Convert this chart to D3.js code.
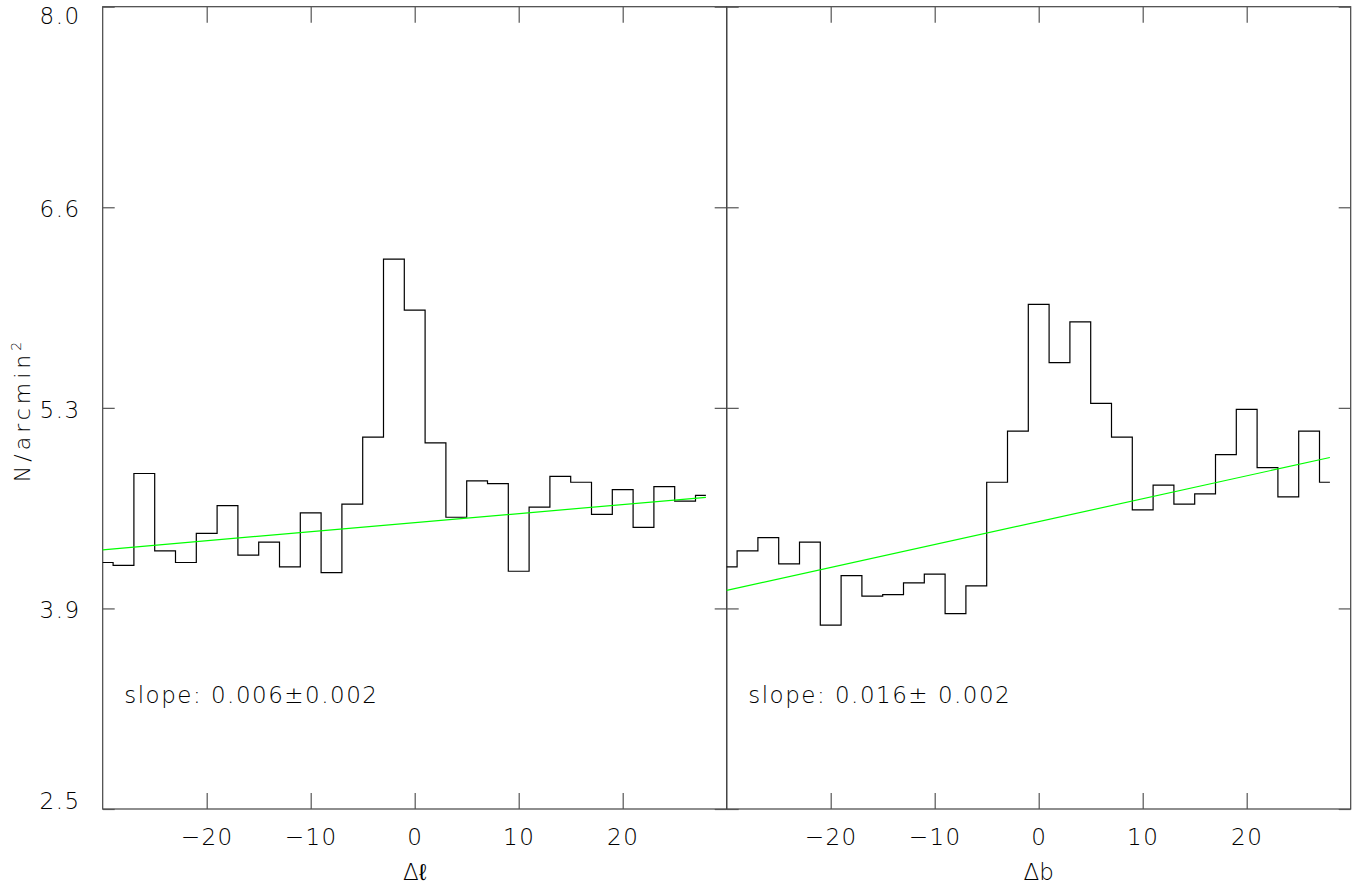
<!DOCTYPE html>
<html>
<head>
<meta charset="utf-8">
<script src="https://cdn.jsdelivr.net/npm/d3@7"></script>
<style>
body { margin: 0; background: #fff; }
text { font-family: "DejaVu Sans", sans-serif; font-weight: 200; fill: #000; }
</style>
</head>
<body>
<script>
// bin centres (arcmin) and star densities
var centres = [-30, -28, -26, -24, -22, -20, -18, -16, -14, -12, -10, -8, -6, -4, -2,
  0, 2, 4, 6, 8, 10, 12, 14, 16, 18, 20, 22, 24, 26, 28];
var densL = [4.19, 4.17, 4.80, 4.27, 4.19, 4.39, 4.58, 4.24, 4.33, 4.16, 4.53, 4.12, 4.59, 5.05, 6.27,
  5.92, 5.01, 4.50, 4.75, 4.73, 4.13, 4.57, 4.78, 4.74, 4.52, 4.69, 4.43, 4.71, 4.61, 4.65];
var densB = [4.16, 4.27, 4.36, 4.18, 4.33, 3.76, 4.10, 3.96, 3.97, 4.05, 4.11, 3.84, 4.03, 4.74, 5.09,
  5.96, 5.56, 5.84, 5.28, 5.05, 4.55, 4.72, 4.59, 4.66, 4.93, 5.24, 4.84, 4.64, 5.09, 4.74];
// linear fits: [intercept, slope]
var fitL = [4.463, 0.0062];
var fitB = [4.47, 0.0157];
var xTicks = [-20, -10, 0, 10, 20];
var yTicks = [2.5, 3.875, 5.25, 6.625, 8.0];
var yTickLabels = ['2.5', '3.9', '5.3', '6.6', '8.0'];

var margin = {top: 6.7, left: 102.7};
var pw = 624;
var ph = 802.3;

var y = d3.scaleLinear().domain([2.5, 8.0]).range([ph, 0]);

var svg = d3.select('body')
.append('svg')
.attr('width', 1354)
.attr('height', 886);

var main = svg.append('g')
.attr('transform', 'translate(' + margin.left + ',' + margin.top + ')');

var panels = [
  {dens: densL, fit: fitL, label: '\u0394\u2113', slope: 'slope: 0.006\u00b10.002', off: 0},
  {dens: densB, fit: fitB, label: '\u0394b', slope: 'slope: 0.016\u00b1 0.002', off: pw}
];

panels.forEach(function(p, i) {
  var x = d3.scaleLinear().domain([-30, 30]).range([0, pw]);
  var g = main.append('g').attr('transform', 'translate(' + p.off + ',0)');

  g.append('rect')
  .attr('width', pw)
  .attr('height', ph)
  .attr('fill', 'none')
  .attr('stroke', '#444')
  .attr('stroke-width', 1.2);

  var bottom = g.append('g')
  .attr('transform', 'translate(0,' + ph + ')')
  .call(d3.axisBottom(x).tickValues(xTicks).tickSizeInner(-16).tickSizeOuter(0).tickPadding(20)
    .tickFormat(function(d) { return d < 0 ? '\u2212' + (-d) : d; }));
  var top = g.append('g')
  .call(d3.axisTop(x).tickValues(xTicks).tickSizeInner(-16).tickSizeOuter(0).tickFormat(''));
  var left = g.append('g')
  .call(d3.axisLeft(y).tickValues(yTicks).tickSizeInner(-12).tickSizeOuter(0).tickPadding(22)
    .tickFormat(function(d, j) { return i === 0 ? yTickLabels[j] : ''; }));
  var right = g.append('g')
  .attr('transform', 'translate(' + pw + ',0)')
  .call(d3.axisRight(y).tickValues(yTicks).tickSizeInner(-12).tickSizeOuter(0).tickFormat(''));

  [bottom, top, left, right].forEach(function(a) {
    a.select('.domain').remove();
    a.selectAll('line').attr('stroke', '#555').attr('stroke-width', 1.2);
    a.selectAll('text').attr('font-size', 23).style('fill', '#000').style('letter-spacing', '1.5px');
  });

  // keep the end labels inside the frame, as the original does
  left.selectAll('.tick text')
  .attr('y', function(d) {
    if (d === 8.0) return 9;
    if (d === 2.5) return -8;
    return 2;
  });

  g.append('path')
  .datum(centres)
  .attr('fill', 'none')
  .attr('stroke', '#000')
  .attr('stroke-width', 1.2)
  .attr('d', d3.line()
    .x(function(d) { return x(d); })
    .y(function(d, j) { return y(p.dens[j]); })
    .curve(d3.curveStep));

  g.append('path')
  .datum([-30, 28])
  .attr('fill', 'none')
  .attr('stroke', '#00ff00')
  .attr('stroke-width', 1.2)
  .attr('d', d3.line()
    .x(function(d) { return x(d); })
    .y(function(d) { return y(p.fit[0] + p.fit[1] * d); }));

  g.append('text')
  .attr('x', 21.5)
  .attr('y', 696.5)
  .attr('font-size', 23)
  .style('letter-spacing', '1.5px')
  .text(p.slope);

  g.append('text')
  .attr('x', pw / 2)
  .attr('y', 873)
  .attr('font-size', 23)
  .style('text-anchor', 'middle')
  .text(p.label);
});

svg.append('text')
.attr('transform', 'rotate(-90)')
.attr('x', -410)
.attr('y', 30)
.attr('font-size', 22)
.style('letter-spacing', '4px')
.style('text-anchor', 'middle')
.html('N/arcmin<tspan dy="-9" font-size="14">2</tspan>');
</script>
</body>
</html>
